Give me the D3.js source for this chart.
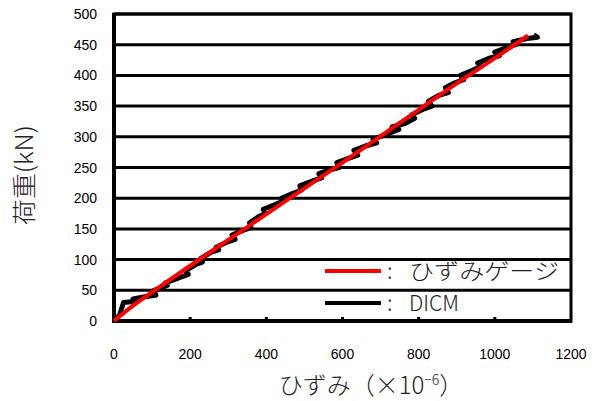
<!DOCTYPE html>
<html>
<head>
<meta charset="utf-8">
<script src="https://cdn.jsdelivr.net/npm/d3@7"></script>
<style>
  body { margin: 0; background: #fff; }
  svg { display: block; }
</style>
</head>
<body>
<svg></svg>
<script>
const width = 603, height = 401
const svg = d3.select("svg").attr("width", width).attr("height", height)

// tick values
const xTicks = [0, 200, 400, 600, 800, 1000, 1200]
const yTicks = [0, 50, 100, 150, 200, 250, 300, 350, 400, 450, 500]

// strain gauge (red)
const gaugeStrain = [0, 50, 100, 200, 300, 400, 500, 600, 700, 800, 900, 1000, 1087]
const gaugeLoad = [0, 25, 47, 90, 132, 174, 216, 258, 301, 344, 387, 428, 465]

// DICM (black)
const dicmStrain = [0, 15, 25, 60, 50, 85, 110, 105, 140, 135, 170, 195, 188, 215, 232, 228, 255, 275, 268, 295, 318, 310, 340, 360, 356, 380, 398, 392, 425, 445, 440, 470, 492, 488, 520, 545, 538, 565, 592, 585, 612, 640, 630, 660, 690, 680, 712, 748, 730, 765, 790, 782, 812, 835, 826, 855, 878, 870, 895, 918, 910, 940, 962, 955, 985, 1012, 1000, 1030, 1055, 1048, 1085, 1112, 1102]
const dicmLoad = [0, 10, 30, 32, 36, 40, 42, 50, 58, 62, 70, 76, 82, 92, 96, 102, 112, 116, 120, 128, 133, 140, 148, 152, 160, 170, 175, 182, 190, 196, 200, 208, 213, 220, 228, 233, 240, 246, 250, 258, 264, 270, 278, 285, 290, 296, 303, 312, 316, 322, 330, 336, 345, 350, 358, 368, 372, 380, 388, 393, 400, 408, 414, 420, 428, 432, 438, 445, 450, 455, 460, 462, 466]

const plotL = 114, plotR = 571, plotT = 14, plotB = 321

const x = d3.scaleLinear().domain([0, 1200]).range([plotL, plotR])
const y = d3.scaleLinear().domain([0, 500]).range([plotB, plotT])

// gridlines
svg.append("g")
  .selectAll("line")
  .data(yTicks.slice(1))
  .enter()
  .append("line")
  .attr("x1", plotL).attr("x2", plotR)
  .attr("y1", d => y(d)).attr("y2", d => y(d))
  .attr("stroke", "#000")
  .attr("stroke-width", 3)

// frame
svg.append("rect")
  .attr("x", plotL).attr("y", plotT)
  .attr("width", plotR - plotL).attr("height", plotB - plotT)
  .attr("fill", "none")
  .attr("stroke", "#000")
  .attr("stroke-width", 3)

// x axis ticks (inside)
svg.append("g")
  .selectAll("line")
  .data(xTicks.slice(1, -1))
  .enter()
  .append("line")
  .attr("x1", d => x(d)).attr("x2", d => x(d))
  .attr("y1", plotB).attr("y2", plotB - 4)
  .attr("stroke", "#000")
  .attr("stroke-width", 3)

// left & bottom axis heavier
svg.append("line").attr("x1", plotL).attr("x2", plotL).attr("y1", plotT - 1).attr("y2", plotB + 2)
  .attr("stroke", "#000").attr("stroke-width", 4)
svg.append("line").attr("x1", plotL - 2).attr("x2", plotR + 1).attr("y1", plotB).attr("y2", plotB)
  .attr("stroke", "#000").attr("stroke-width", 4)

// tick labels
svg.append("g")
  .selectAll("text")
  .data(yTicks)
  .enter()
  .append("text")
  .attr("x", 97)
  .attr("y", d => y(d) + 5)
  .attr("text-anchor", "end")
  .attr("font-family", "Liberation Sans, Arial, sans-serif")
  .attr("font-size", 14)
  .text(d => d)

svg.append("g")
  .selectAll("text")
  .data(xTicks)
  .enter()
  .append("text")
  .attr("x", d => x(d))
  .attr("y", 359)
  .attr("text-anchor", "middle")
  .attr("font-family", "Liberation Sans, Arial, sans-serif")
  .attr("font-size", 14)
  .text(d => d)

// series
const dicmPts = dicmStrain.map((d, i) => [x(d), y(dicmLoad[i])])
svg.append("path")
  .attr("d", d3.line()(dicmPts))
  .attr("fill", "none")
  .attr("stroke", "#000")
  .attr("stroke-width", 5)
  .attr("stroke-linejoin", "round")

const gaugePts = gaugeStrain.map((d, i) => [x(d), y(gaugeLoad[i])])
svg.append("path")
  .attr("d", d3.line().curve(d3.curveMonotoneX)(gaugePts))
  .attr("fill", "none")
  .attr("stroke", "#ff0000")
  .attr("stroke-width", 4)

// legend
const jp = "'Noto Sans CJK JP', sans-serif"
const legend = [
  { name: "ひずみゲージ", color: "#ff0000", ly: 271, len: 150 },
  { name: "DICM", color: "#000", ly: 303, len: 50 }
]
legend.forEach(l => {
  svg.append("line")
    .attr("x1", 325).attr("x2", 381)
    .attr("y1", l.ly).attr("y2", l.ly)
    .attr("stroke", l.color)
    .attr("stroke-width", 4)
  svg.append("text")
    .attr("x", 387)
    .attr("y", l.ly + 8)
    .attr("font-family", jp)
    .attr("font-weight", 300)
    .attr("font-size", 22)
    .attr("fill", "#222")
    .text(":")
  svg.append("text")
    .attr("x", 409)
    .attr("y", l.ly + 8)
    .attr("font-family", jp)
    .attr("font-weight", 300)
    .attr("font-size", 22)
    .attr("textLength", l.len)
    .attr("lengthAdjust", "spacingAndGlyphs")
    .attr("fill", "#222")
    .text(l.name)
})

// axis titles
svg.append("text")
  .attr("transform", "translate(33,175) rotate(-90)")
  .attr("text-anchor", "middle")
  .attr("font-family", jp)
  .attr("font-weight", 300)
  .attr("font-size", 24)
  .attr("textLength", 100)
  .attr("lengthAdjust", "spacingAndGlyphs")
  .attr("fill", "#222")
  .text("荷重(kN)")

const xt = svg.append("text")
  .attr("x", 371)
  .attr("y", 394)
  .attr("text-anchor", "middle")
  .attr("font-family", jp)
  .attr("font-weight", 300)
  .attr("font-size", 24)
  .attr("fill", "#222")
xt.append("tspan").text("ひずみ（×10")
xt.append("tspan").attr("font-size", 14).attr("dy", -9).text("−6")
xt.append("tspan").attr("dy", 9).text("）")
</script>
</body>
</html>
